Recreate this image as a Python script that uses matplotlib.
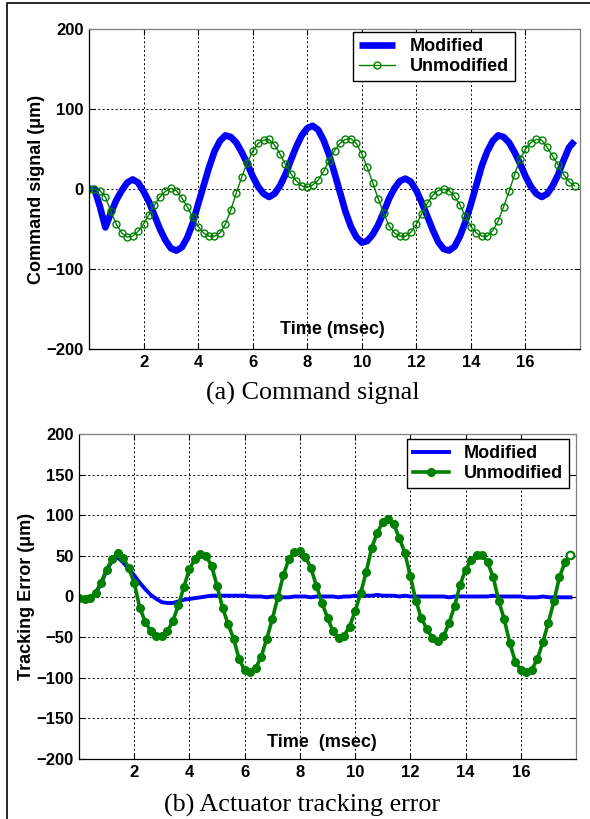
import numpy as np
import matplotlib
matplotlib.use("Agg")
import matplotlib.pyplot as plt
from matplotlib.lines import Line2D

# sample times (msec), 0.2 ms step
t = np.round(np.arange(90) * 0.2, 1)

cmd_mod = [0, 0, -22, -48, -30, -14, -2, 8, 12, 8,
           -3, -16, -33, -50, -64, -74, -77, -73, -61, -43,
           -19, 4, 27, 47, 60, 67, 65, 58, 46, 32,
           16, 3, -6, -10, -6, 4, 18, 36, 53, 67,
           76, 79, 74, 61, 43, 20, -4, -28, -47, -60,
           -67, -65, -57, -45, -29, -12, 1, 10, 13, 9,
           -2, -17, -34, -51, -66, -75, -77, -72, -59, -41,
           -19, 5, 29, 47, 60, 67, 65, 58, 46, 32,
           16, 3, -6, -10, -6, 4, 18, 36, 52, 60]
cmd_unmod = [0, 0, -2, -10, -28, -44, -55, -60, -59, -53,
             -44, -32, -20, -10, -3, 1, -2, -11, -22, -35,
             -47, -55, -59, -59, -55, -44, -26, -5, 15, 33,
             47, 57, 61, 62, 55, 44, 31, 19, 10, 4,
             2, 5, 11, 22, 35, 48, 57, 62, 63, 57,
             44, 27, 8, -12, -30, -46, -55, -59, -59, -54,
             -44, -31, -18, -8, -2, 0, -2, -9, -20, -34,
             -47, -55, -59, -59, -52, -40, -22, -3, 18, 37,
             50, 58, 62, 61, 52, 41, 30, 18, 9, 4]
err_mod = [-2, -3, -2, 4, 16, 32, 44, 48, 42, 34,
           26, 17, 9, 2, -3, -7, -8, -8, -6, -4,
           -3, -2, -1, 0, 1, 1, 1, 1, 1, 1,
           1, 0, 0, 0, -1, 0, -1, -1, -1, 0,
           0, 0, -1, 0, 0, 0, 0, -1, 0, 0,
           1, 1, 1, 1, 2, 1, 1, 1, 0, 1,
           0, 0, 0, 0, 0, 0, 0, -1, 0, 0,
           0, 0, 0, 0, 0, 1, 0, 0, 0, 0,
           0, -1, -1, -1, 0, -1, -1, -1, -1, -1]
err_unmod = [-2, -3, -2, 4, 17, 33, 46, 54, 48, 35,
             17, -14, -31, -43, -48, -48, -43, -30, -11, 12,
             34, 46, 52, 50, 38, 13, -14, -34, -52, -77,
             -91, -93, -88, -74, -52, -28, -1, 26, 46, 55,
             56, 49, 35, 13, -8, -26, -43, -51, -48, -37,
             -18, 4, 30, 60, 78, 92, 95, 89, 72, 54,
             25, -5, -27, -40, -51, -55, -49, -33, -12, 14,
             33, 45, 51, 51, 42, 24, -5, -28, -57, -80,
             -91, -93, -90, -77, -56, -32, -6, 24, 42, 51]

xticks = [2, 4, 6, 8, 10, 12, 14, 16]
BLUE = "#0000ff"
GREEN = "#008000"
W, H = 590, 819

plt.rcParams["font.family"] = ["Liberation Sans", "DejaVu Sans"]
plt.rcParams["font.weight"] = "bold"

fig = plt.figure(figsize=(W / 100, H / 100), dpi=100)


def box(l, t_, r, b):
    return [l / W, 1 - b / H, (r - l) / W, (b - t_) / H]


def style(ax, yticks):
    ax.set_xlim(0, 18)
    ax.set_ylim(-200, 200)
    ax.set_xticks(xticks)
    ax.set_yticks(yticks)
    ax.tick_params(direction="in", length=4, width=0.8, top=True, right=True,
                   labelsize=12, pad=4)
    for lab in ax.get_xticklabels() + ax.get_yticklabels():
        lab.set_fontweight("bold")
    ax.grid(True, color="black", linestyle=(0, (2, 2.5)), linewidth=0.7)
    ax.spines["top"].set_color("#7f7f7f")
    ax.spines["right"].set_color("#7f7f7f")
    for s in ax.spines.values():
        s.set_linewidth(0.9)


leg_kw = dict(loc="upper left", borderaxespad=0, fancybox=False, framealpha=1,
              edgecolor="black", prop={"size": 13, "weight": "bold"},
              handlelength=2.0, borderpad=0.35, labelspacing=0.15,
              handletextpad=0.8)

# (a) command signal
ax1 = fig.add_axes(box(89, 29, 580, 349))
ax1.plot(t, cmd_mod, color=BLUE, lw=4.8, label="Modified", solid_capstyle="butt")
ax1.plot(t, cmd_unmod, color=GREEN, lw=1.0, marker="o", ms=5, mfc="none",
         mew=1.0, label="Unmodified")
style(ax1, [-200, -100, 0, 100, 200])
ax1.set_ylabel("Command signal (μm)", fontsize=13, fontweight="bold", labelpad=1)
ax1.text(0.495, 0.06, "Time (msec)", transform=ax1.transAxes, ha="center",
         va="center", fontsize=13, fontweight="bold")
ax1.legend(bbox_to_anchor=(353 / W, 1 - 32 / H), bbox_transform=fig.transFigure,
           **leg_kw)

# (b) actuator tracking error
ax2 = fig.add_axes(box(79, 434, 576, 759))
ax2.plot(t, err_mod, color=BLUE, lw=2.8, label="Modified")
ax2.plot(t, err_unmod, color=GREEN, lw=2.6, marker="o", ms=5.5, mfc=GREEN,
         mec=GREEN, label="Unmodified")
ax2.plot(t[-1:], err_unmod[-1:], ls="none", marker="o", ms=5.5, mfc="white",
         mec=GREEN, mew=1.5)
style(ax2, [-200, -150, -100, -50, 0, 50, 100, 150, 200])
ax2.set_ylabel("Tracking Error (μm)", fontsize=13, fontweight="bold", labelpad=1)
ax2.text(0.488, 0.052, "Time  (msec)", transform=ax2.transAxes, ha="center",
         va="center", fontsize=13, fontweight="bold")
ax2.legend(bbox_to_anchor=(407 / W, 1 - 439 / H), bbox_transform=fig.transFigure,
           **leg_kw)

# captions
fig.text(312.5 / W, 1 - 400 / H, "(a) Command signal", ha="center", va="baseline",
         family="Liberation Serif", fontweight="normal", fontsize=18.8)
fig.text(301.5 / W, 1 - 811.7 / H, "(b) Actuator tracking error", ha="center",
         va="baseline", family="Liberation Serif", fontweight="normal", fontsize=18.8)

# outer frame (top and left edges)
fig.add_artist(Line2D([7 / W, 7 / W, 1], [0, 1 - 3 / H, 1 - 3 / H],
                      transform=fig.transFigure, color="black", lw=1.2))

fig.savefig("out.png", dpi=100)
